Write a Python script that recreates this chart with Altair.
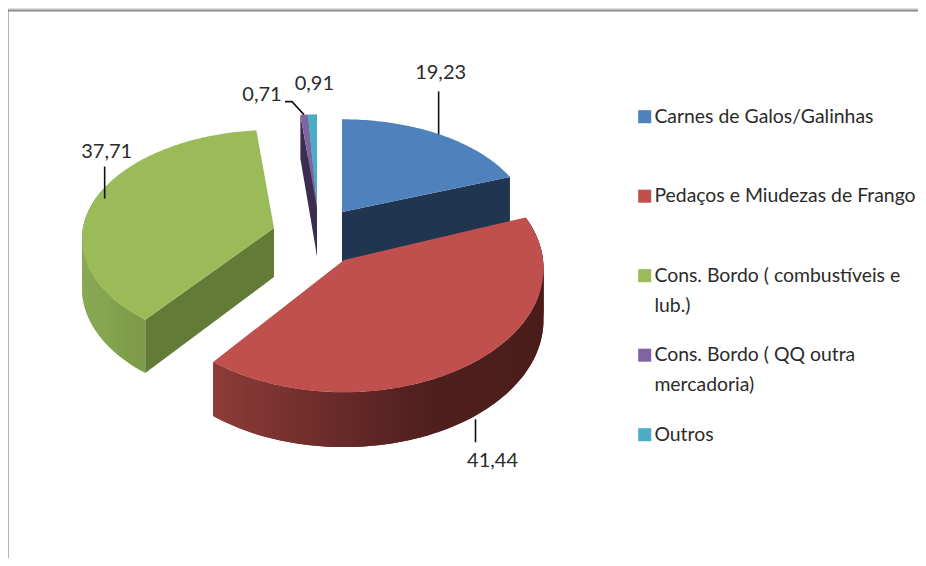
import math
import altair as alt

# ---- data ----
categories = ["Carnes de Galos/Galinhas", "Pedaços e Miudezas de Frango",
              "Cons. Bordo ( combustíveis e lub.)", "Cons. Bordo ( QQ outra mercadoria)", "Outros"]
values = [19.23, 41.44, 37.71, 0.71, 0.91]
value_labels = ["19,23", "41,44", "37,71", "0,71", "0,91"]
top_colors = ["#4f81bd", "#c0504d", "#9bbb59", "#8064a2", "#4bacc6"]

# ---- geometry of the tilted, exploded pie (page pixels) ----
K = 0.1
GEOM = [
    dict(cx=342, cy=212, rx=186, ry=102, d=50, k=K),
    dict(cx=344, cy=260, rx=199, ry=123, d=51, k=0.07),
    dict(cx=274, cy=228, rx=191, ry=108, d=49, k=K),
    dict(cx=317, cy=208, rx=180, ry=103, d=48, k=K),
    dict(cx=317, cy=208, rx=180, ry=103, d=48, k=K),
]
FACE = [("#1f3550", "end"), None, ("#647a37", "start"), ("#3b2d52", "start"), ("#1f4a5a", "start")]
WALL_STOPS = {
    1: [(217, "#8c3b38"), (300, "#74302d"), (350, "#652928"), (430, "#4f1f1d"), (545, "#4a1d1b")],
    2: [(82, "#8aa954"), (110, "#84a44e"), (142, "#7c9a48")],
}
PAINT_ORDER = [4, 3, 0, 2, 1]


def pt(i, deg, depth=False):
    g = GEOM[i]
    t = math.radians(deg)
    u, v = math.sin(t), math.cos(t)
    s = 1 / (1 + g["k"] * v)
    return [g["cx"] + s * g["rx"] * u,
            g["cy"] - s * g["ry"] * v + (g["d"] * s if depth else 0)]


def hexmix(stops, x):
    if x <= stops[0][0]:
        return stops[0][1]
    for (x0, c0), (x1, c1) in zip(stops, stops[1:]):
        if x <= x1:
            f = (x - x0) / (x1 - x0)
            a = [int(c0[j:j + 2], 16) for j in (1, 3, 5)]
            b = [int(c1[j:j + 2], 16) for j in (1, 3, 5)]
            return "#%02x%02x%02x" % tuple(round(p + (q - p) * f) for p, q in zip(a, b))
    return stops[-1][1]


def poly(coords, **props):
    ring = coords + [coords[0]]
    return {"type": "Feature", "properties": props,
            "geometry": {"type": "Polygon", "coordinates": [ring]}}


def line(coords, **props):
    return {"type": "Feature", "properties": props,
            "geometry": {"type": "LineString", "coordinates": coords}}


starts, acc = [], 0.0
for val in values:
    starts.append(acc * 3.6)
    acc += val
ends = [a + val * 3.6 for a, val in zip(starts, values)]

PROJ = dict(type="identity", scale=1, translate=[-8, -8])
FONT = "Lato"


def geo(features):
    return alt.InlineData(values={"type": "FeatureCollection", "features": features},
                          format=alt.DataFormat(type="json", property="features"))


color_scale = alt.Scale(domain=categories, range=top_colors)
label_expr = ("split(replace(replace(datum.label,'e lub','e\\nlub'),"
              "'outra mercadoria','outra\\nmercadoria'),'\\n')")
legend = alt.Legend(title=None, orient="none", legendX=627, legendY=99, symbolType="square",
                    symbolSize=170, symbolStrokeWidth=0, labelFont=FONT, labelFontSize=19.4,
                    labelColor="#2b2b2b", labelLimit=320, rowPadding=28.5, labelOffset=0,
                    gridAlign="all", labelExpr=label_expr, values=categories)

layers = [alt.Chart(geo([line([[7.5, 558], [7.5, 10.5], [918, 10.5]])])).mark_geoshape(
    filled=False, stroke="#8a8a8a", strokeWidth=2).project(**PROJ)]

for i in PAINT_ORDER:
    g = GEOM[i]
    apex = [g["cx"], g["cy"]]
    apex_low = [g["cx"], g["cy"] + g["d"]]
    sides = []
    if FACE[i]:
        col, which = FACE[i]
        a = starts[i] if which == "start" else ends[i]
        sides.append(poly([apex, pt(i, a), pt(i, a, True), apex_low], fill=col))
    if i in WALL_STOPS:
        n = int((ends[i] - starts[i]) / 1.5)
        for j in range(n):
            a0 = starts[i] + (ends[i] - starts[i]) * j / n
            a1 = starts[i] + (ends[i] - starts[i]) * (j + 1) / n
            a2 = min(ends[i], a1 + 1.5)
            p0, p1 = pt(i, a0), pt(i, a1)
            if i == 2 and math.cos(math.radians(a0)) > 0.35:
                continue
            sides.append(poly([p0, p1, pt(i, a2), pt(i, a2, True), pt(i, a1, True), pt(i, a0, True)],
                              fill=hexmix(WALL_STOPS[i], (p0[0] + p1[0]) / 2)))
    if sides:
        layers.append(alt.Chart(geo(sides)).mark_geoshape().encode(
            fill=alt.Fill("properties.fill:N", scale=None, legend=None),
        ).project(**PROJ))
    n = max(2, int(ends[i] - starts[i]))
    arc = [pt(i, starts[i] + (ends[i] - starts[i]) * j / n) for j in range(n + 1)]
    layers.append(alt.Chart(geo([poly([apex] + arc, name=categories[i])])).mark_geoshape().encode(
        color=alt.Color("properties.name:N", scale=color_scale, legend=legend)
    ).project(**PROJ))

# ---- labels and leaders: anchored on each slice's mid-angle ----
LEADER = {0: (-1, 0, 0, -43, 2, -18), 1: (7, 0, 0, 23, 17, 19), 2: (9, 0, 0, -32, 2, -15)}
leaders, texts = [], []
for i, lab in enumerate(value_labels):
    mid = (starts[i] + ends[i]) / 2
    if i in LEADER:
        bdx, bdy, ldx, ldy, tdx, tdy = LEADER[i]
        base = pt(i, mid, depth=(i == 1))
        base = [base[0] + bdx, base[1] + bdy]
        tip = [base[0] + ldx, base[1] + ldy]
        leaders.append(line([base, tip]))
        texts.append(dict(x=tip[0] + tdx - 8, y=tip[1] + tdy - 8, t=lab))
    elif i == 3:
        base = pt(i, mid)
        elbow = [base[0] - 12, base[1] - 13]
        tip = [elbow[0] - 7, elbow[1]]
        leaders.append(line([base, elbow, tip]))
        texts.append(dict(x=tip[0] - 23 - 8, y=tip[1] - 7 - 8, t=lab))
    else:
        base = pt(i, mid)
        texts.append(dict(x=base[0] + 2 - 8, y=base[1] - 30 - 8, t=lab))

layers.append(alt.Chart(geo(leaders)).mark_geoshape(
    filled=False, stroke="#111111", strokeWidth=1.6).project(**PROJ))
layers.append(alt.Chart(alt.Data(values=texts)).mark_text(
    font=FONT, fontSize=20, color="#2b2b2b").encode(
    x=alt.X("x:Q", scale=None), y=alt.Y("y:Q", scale=None), text="t:N"))

chart = alt.layer(*layers).properties(
    width=910, height=550, padding=0, background="white",
    autosize=alt.AutoSizeParams(type="none"),
).configure_view(stroke=None).configure(style={"guide-label": {"lineHeight": 30}})

chart.save("out.html", embed_options={"renderer": "svg", "actions": False})
